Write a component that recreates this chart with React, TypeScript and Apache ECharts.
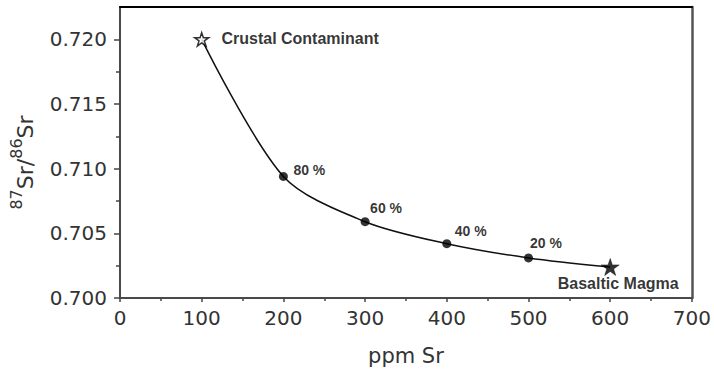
import React, { useEffect, useRef } from 'react';
import * as echarts from 'echarts';

// ---- data ----
const srPpm = [100, 200, 300, 400, 500, 600];
const srRatio = [0.72, 0.7094, 0.7059, 0.7042, 0.7031, 0.7024];
const mixPointIndex = [1, 2, 3, 4];
const mixPercentLabels = ['80 %', '60 %', '40 %', '20 %'];
const endMemberIndex = [0, 5];
const endMemberNames = ['Crustal Contaminant', 'Basaltic Magma'];
const xTickValues = [0, 100, 200, 300, 400, 500, 600, 700];
const yTickValues = [0.7, 0.705, 0.71, 0.715, 0.72];
const yMinorTickValues = [0.7025, 0.7075, 0.7125, 0.7175];
const xAxisTitle = 'ppm Sr';
const yAxisTitle = '{sup|87}{main|Sr/}{sup|86}{main|Sr}';

// ---- styles ----
const pctLabelPos = [
  [14.5, -1.5],
  [9.5, -9.5],
  [12.5, -8.5],
  [6, -10.5],
];
const STAR =
  'path://M50,0 L61.8,35.1 L98.9,35.1 L68.8,57.1 L80.2,92.7 L50,70.9 L19.8,92.7 L31.2,57.1 L1.1,35.1 L38.2,35.1 Z';
const AXIS_FONT = 'DejaVu Sans';
const NOTE_FONT = 'Liberation Sans';

export default function App() {
  const ref = useRef<HTMLDivElement>(null);
  useEffect(() => {
    if (!ref.current) return;
    const chart = echarts.init(ref.current, undefined, { renderer: 'svg' });
    const yMin = 0.7;
    const yMax = 0.7225;
    const axisLineStyle = { color: '#4a4a4a', width: 2 };
    chart.setOption({
      animation: false,
      backgroundColor: '#fff',
      grid: { left: 119, right: 20, top: 7, bottom: 75, containLabel: false },
      xAxis: [
        {
          type: 'value',
          min: 0,
          max: 700,
          interval: 100,
          position: 'bottom',
          name: xAxisTitle,
          nameLocation: 'middle',
          nameGap: 47,
          nameTextStyle: { fontFamily: AXIS_FONT, fontSize: 21, color: '#333' },
          axisLine: { show: true, lineStyle: axisLineStyle },
          axisTick: { show: true, length: 4, customValues: xTickValues, lineStyle: { color: '#444', width: 1.5 } },
          minorTick: { show: true, splitNumber: 2, length: 3, lineStyle: { color: '#444', width: 1.5 } },
          axisLabel: {
            customValues: xTickValues,
            margin: 10,
            fontFamily: AXIS_FONT,
            fontSize: 20,
            color: '#333',
          },
          splitLine: { show: false },
        },
        {
          type: 'value',
          min: 0,
          max: 700,
          position: 'top',
          axisLine: { show: true, onZero: false, lineStyle: { color: '#000', width: 2 } },
          axisTick: { show: false },
          axisLabel: { show: false },
          splitLine: { show: false },
        },
      ],
      yAxis: [
        {
          type: 'value',
          min: yMin,
          max: yMax,
          interval: 0.005,
          position: 'left',
          name: yAxisTitle,
          nameLocation: 'middle',
          nameRotate: 90,
          nameGap: 84,
          nameTextStyle: {
            fontFamily: AXIS_FONT,
            color: '#333',
            padding: [0, 20, 0, 0],
            rich: {
              main: { fontFamily: AXIS_FONT, fontSize: 22, lineHeight: 28, verticalAlign: 'bottom', color: '#333' },
              sup: { fontFamily: AXIS_FONT, fontSize: 16, lineHeight: 16, verticalAlign: 'top', color: '#333' },
            },
          },
          axisLine: { show: true, lineStyle: axisLineStyle },
          axisTick: { show: true, length: 6, customValues: yTickValues, lineStyle: { color: '#444', width: 1.5 } },
          minorTick: { show: false },
          axisLabel: {
            customValues: yTickValues,
            margin: 13,
            fontFamily: AXIS_FONT,
            fontSize: 20,
            color: '#333',
            formatter: (v: number) => v.toFixed(3),
          },
          splitLine: { show: false },
        },
        {
          type: 'value',
          min: yMin,
          max: yMax,
          position: 'left',
          axisLine: { show: false },
          axisTick: { show: true, length: 4, customValues: yMinorTickValues, lineStyle: { color: '#444', width: 1.5 } },
          axisLabel: { show: false },
          splitLine: { show: false },
        },
        {
          type: 'value',
          min: yMin,
          max: yMax,
          position: 'right',
          axisLine: { show: true, onZero: false, lineStyle: { color: '#555', width: 2.5 } },
          axisTick: { show: false },
          axisLabel: { show: false },
          splitLine: { show: false },
        },
      ],
      series: [
        {
          type: 'line',
          xAxisIndex: 0,
          yAxisIndex: 0,
          data: srPpm.map((x, i) => [x, srRatio[i]]),
          smooth: 0.3,
          showSymbol: false,
          symbol: 'none',
          lineStyle: { color: '#111', width: 1.5 },
          z: 2,
        },
        {
          type: 'scatter',
          xAxisIndex: 0,
          yAxisIndex: 0,
          symbol: 'circle',
          symbolSize: 9,
          itemStyle: { color: '#000' },
          data: mixPointIndex.map((idx, k) => ({
            value: [srPpm[idx], srRatio[idx]],
            label: {
              show: true,
              formatter: mixPercentLabels[k],
              position: pctLabelPos[k],
              align: 'left',
              verticalAlign: 'middle',
              fontFamily: NOTE_FONT,
              fontWeight: 'bold',
              fontSize: 14,
              color: '#000',
            },
          })),
          z: 3,
        },
        {
          type: 'scatter',
          xAxisIndex: 0,
          yAxisIndex: 0,
          symbol: STAR,
          symbolKeepAspect: true,
          data: endMemberIndex.map((idx, k) => ({
            value: [srPpm[idx], srRatio[idx]],
            symbolSize: k === 0 ? 14 : 18,
            itemStyle:
              k === 0
                ? { color: '#fff', borderColor: '#000', borderWidth: 1.5 }
                : { color: '#000', borderColor: '#000', borderWidth: 0.5 },
            label: {
              show: true,
              formatter: endMemberNames[k],
              position: k === 0 ? 'right' : 'bottom',
              distance: k === 0 ? 12 : 0,
              offset: k === 0 ? [0, -1] : [8, 0],
              fontFamily: NOTE_FONT,
              fontWeight: 'bold',
              fontSize: 16,
              color: '#000',
            },
          })),
          z: 4,
        },
      ],
    });
    return () => chart.dispose();
  }, []);
  return (
    <div
      ref={ref}
      style={{ position: 'fixed', left: 0, top: 0, width: 714, height: 373, background: '#fff' }}
    />
  );
}
